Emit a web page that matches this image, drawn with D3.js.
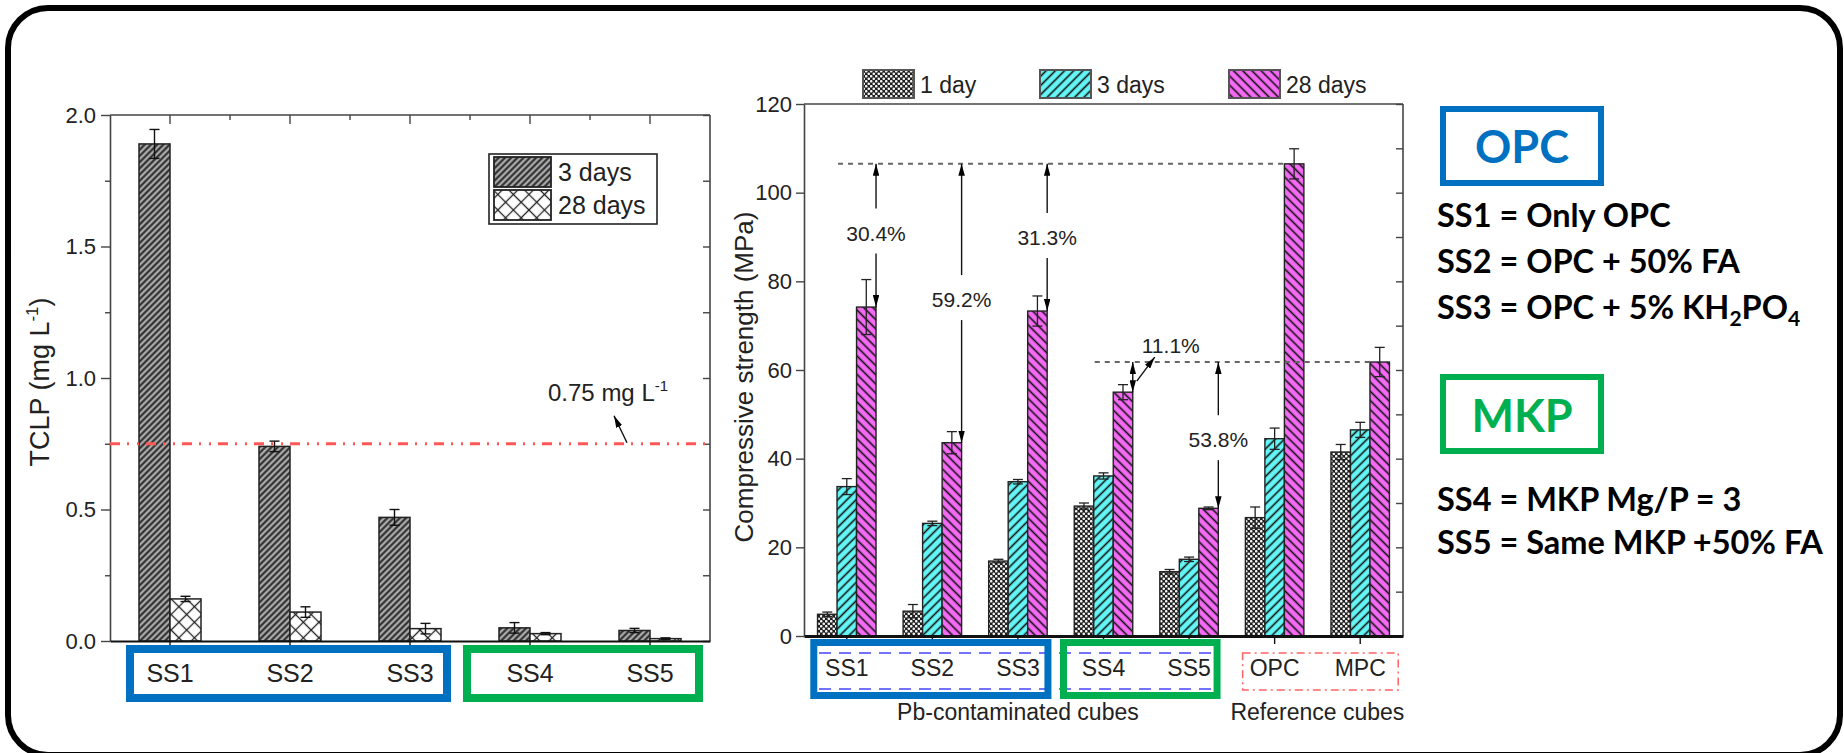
<!DOCTYPE html>
<html><head><meta charset="utf-8">
<script src="https://cdnjs.cloudflare.com/ajax/libs/d3/7.8.5/d3.min.js"></script>
<style>
html,body{margin:0;padding:0;background:#fff;}
svg{display:block;}
text{font-family:"Liberation Sans",Arial,sans-serif;fill:#222;}
.panel text{font-family:Lato,"Open Sans",sans-serif;font-weight:700;fill:#000;}
</style></head><body>
<svg id="c" width="1844" height="753"></svg>
<script>
// ---------- DATA ----------
const tclpCats = ["SS1","SS2","SS3","SS4","SS5"];
const tclp3d = [1.89, 0.74, 0.47, 0.05, 0.04];
const tclp3dErr = [0.055, 0.02, 0.03, 0.02, 0.008];
const tclp28d = [0.16, 0.11, 0.047, 0.028, 0.009];
const tclp28dErr = [0.01, 0.02, 0.02, 0.004, 0.003];
const tclpLimit = 0.75;
const tclpTicks = [0, 0.5, 1.0, 1.5, 2.0];
const tclpMinor = [0.25, 0.75, 1.25, 1.75];
const tclpSeries = ["3 days","28 days"];

const csCats = ["SS1","SS2","SS3","SS4","SS5","OPC","MPC"];
const cs1d = [4.9, 5.6, 16.9, 29.3, 14.5, 26.7, 41.5];
const cs1dErr = [0.5, 1.5, 0.4, 0.7, 0.5, 2.4, 1.7];
const cs3d = [33.7, 25.4, 34.8, 36.1, 17.3, 44.5, 46.5];
const cs3dErr = [1.8, 0.5, 0.5, 0.7, 0.5, 2.4, 1.7];
const cs28d = [74.2, 43.6, 73.3, 55.0, 28.8, 106.5, 61.8];
const cs28dErr = [6.2, 2.5, 3.4, 1.7, 0.3, 3.4, 3.3];
const csTicks = [0, 20, 40, 60, 80, 100, 120];
const csMinor = [10, 30, 50, 70, 90, 110];
const csSeries = ["1 day","3 days","28 days"];
// strength reduction annotations: category, reference, label, label position (MPa)
const redCats = ["SS1","SS2","SS3","SS5"];
const redRefs = ["OPC","OPC","OPC","MPC"];
const redLabels = ["30.4%","59.2%","31.3%","53.8%"];
const redLabelAt = [91, 76, 90, 44.4];
const smallRed = {cat:"SS4", ref:"MPC", label:"11.1%"};

const panelOPC = ["SS1 = Only OPC","SS2 = OPC + 50% FA"];
const panelMKP = ["SS4 = MKP Mg/P = 3","SS5 = Same MKP +50% FA"];

// ---------- SETUP ----------
const svg = d3.select("#c");
const defs = svg.append("defs");
function hatch(id, bg, angle, gap, sw, color){
  const p = defs.append("pattern").attr("id",id).attr("patternUnits","userSpaceOnUse")
    .attr("width",gap).attr("height",gap).attr("patternTransform",`rotate(${angle})`);
  p.append("rect").attr("width",gap).attr("height",gap).attr("fill",bg);
  p.append("line").attr("x1",gap/2).attr("x2",gap/2).attr("y1",0).attr("y2",gap)
    .attr("stroke",color).attr("stroke-width",sw);
}
hatch("grayH","#ababab",45,4.4,2,"#262626");
hatch("cyanH","#64f6f6",45,6.5,1.6,"#111");
hatch("magH","#f46af4",-45,6.5,1.6,"#111");
{
  const p = defs.append("pattern").attr("id","cross").attr("patternUnits","userSpaceOnUse")
    .attr("width",11).attr("height",11).attr("patternTransform","rotate(45)");
  p.append("rect").attr("width",11).attr("height",11).attr("fill","#fff");
  p.append("line").attr("x1",5.5).attr("x2",5.5).attr("y1",0).attr("y2",11).attr("stroke","#222").attr("stroke-width",1.3);
  p.append("line").attr("y1",5.5).attr("y2",5.5).attr("x1",0).attr("x2",11).attr("stroke","#222").attr("stroke-width",1.3);
  const d = defs.append("pattern").attr("id","dots").attr("patternUnits","userSpaceOnUse")
    .attr("width",5).attr("height",5);
  d.append("rect").attr("width",5).attr("height",5).attr("fill","#1e1e1e");
  d.append("circle").attr("cx",1.25).attr("cy",1.25).attr("r",1.3).attr("fill","#f4f4f4");
  d.append("circle").attr("cx",3.75).attr("cy",3.75).attr("r",1.3).attr("fill","#f4f4f4");
}
defs.append("marker").attr("id","ah").attr("viewBox","0 0 10 10").attr("refX",10).attr("refY",5)
  .attr("markerWidth",12).attr("markerHeight",6.5).attr("markerUnits","userSpaceOnUse")
  .attr("preserveAspectRatio","none").attr("orient","auto-start-reverse")
  .append("path").attr("d","M0,0 L10,5 L0,10 z").attr("fill","#000");

// outer frame
svg.append("rect").attr("x",8).attr("y",8).attr("width",1832).attr("height",747).attr("rx",40)
  .attr("fill","none").attr("stroke","#000").attr("stroke-width",6);

function styleAxis(g, color, w){
  g.select(".domain").attr("stroke",color).attr("stroke-width",w);
  g.selectAll(".tick line").attr("stroke",color).attr("stroke-width",1.4);
}

// ---------- LEFT CHART (TCLP) ----------
const L = {x0:110, x1:710, y0:641, y1:115};
const xL = d3.scaleBand().domain(tclpCats).range([L.x0, L.x1]);
const yL = d3.scaleLinear().domain([0,2]).range([L.y0, L.y1]);
const bwL = 31;
const gL = svg.append("g");

gL.append("line").attr("x1",L.x0).attr("x2",L.x1).attr("y1",L.y1).attr("y2",L.y1).attr("stroke","#444").attr("stroke-width",1.6);
gL.append("line").attr("x1",L.x1).attr("x2",L.x1).attr("y1",L.y1).attr("y2",L.y0).attr("stroke","#444").attr("stroke-width",1.6);

const axL = gL.append("g").attr("transform",`translate(${L.x0},0)`)
  .call(d3.axisLeft(yL).tickValues(tclpTicks).tickFormat(d3.format(".1f")).tickSize(9).tickSizeOuter(0).tickPadding(5));
axL.selectAll("text").attr("font-size",22).attr("fill","#333");
styleAxis(axL,"#444",1.6);
const axLm = gL.append("g").attr("transform",`translate(${L.x0},0)`)
  .call(d3.axisLeft(yL).tickValues(tclpMinor).tickFormat("").tickSize(5).tickSizeOuter(0));
axLm.select(".domain").remove(); styleAxis(axLm,"#444",1.4);
const axR = gL.append("g").attr("transform",`translate(${L.x1},0)`)
  .call(d3.axisLeft(yL).tickValues(tclpTicks.concat(tclpMinor)).tickFormat("").tickSize(7).tickSizeOuter(0));
axR.select(".domain").remove(); styleAxis(axR,"#444",1.4);
const axT = gL.append("g").attr("transform",`translate(0,${L.y1})`)
  .call(d3.axisTop(xL).tickFormat("").tickSize(-9).tickSizeOuter(0));
axT.select(".domain").remove(); styleAxis(axT,"#444",1.4);
gL.append("g").selectAll("line").data(tclpCats.slice(1)).join("line")
  .attr("x1",d=>xL(d)).attr("x2",d=>xL(d)).attr("y1",L.y1).attr("y2",L.y1+5)
  .attr("stroke","#444").attr("stroke-width",1.4);

const barsL = [{vals:tclp3d, err:tclp3dErr, fill:"url(#grayH)", off:-bwL},{vals:tclp28d, err:tclp28dErr, fill:"url(#cross)", off:0}];
barsL.forEach(s=>{
  const c = xL.bandwidth()/2;
  gL.append("g").selectAll("rect").data(tclpCats).join("rect")
    .attr("x",d=>xL(d)+c+s.off).attr("width",bwL)
    .attr("y",(d,i)=>yL(s.vals[i])).attr("height",(d,i)=>yL(0)-yL(s.vals[i]))
    .attr("fill",s.fill).attr("stroke","#222").attr("stroke-width",1.5);
  const eg = gL.append("g").attr("stroke","#111").attr("stroke-width",1.4);
  tclpCats.forEach((d,i)=>{
    const cx = xL(d)+c+s.off+bwL/2;
    const yt = yL(s.vals[i]+s.err[i]), yb = yL(s.vals[i]-s.err[i]);
    eg.append("line").attr("x1",cx).attr("x2",cx).attr("y1",yt).attr("y2",yb);
    eg.append("line").attr("x1",cx-5).attr("x2",cx+5).attr("y1",yt).attr("y2",yt);
    eg.append("line").attr("x1",cx-5).attr("x2",cx+5).attr("y1",yb).attr("y2",yb);
  });
});

const axB = gL.append("g").attr("transform",`translate(0,${L.y0})`)
  .call(d3.axisBottom(xL).tickSize(7).tickSizeOuter(0).tickPadding(16));
axB.selectAll("text").attr("font-size",25).attr("fill","#222");
styleAxis(axB,"#111",2.2);

gL.append("line").attr("x1",L.x0).attr("x2",L.x1).attr("y1",yL(tclpLimit)).attr("y2",yL(tclpLimit))
  .attr("stroke","#ff5757").attr("stroke-width",3).attr("stroke-dasharray","10,7,2,8,2,7");
const lt = gL.append("text").attr("x",548).attr("y",yL(tclpLimit)-43).attr("font-size",24).attr("fill","#222");
lt.append("tspan").text(d3.format(".2f")(tclpLimit)+" mg L");
lt.append("tspan").attr("font-size",15).attr("dy",-10).text("-1");
gL.append("line").attr("x1",627).attr("y1",yL(tclpLimit)-1).attr("x2",614).attr("y2",yL(tclpLimit)-28)
  .attr("stroke","#111").attr("stroke-width",1.4).attr("marker-end","url(#ah)");

const yl = gL.append("text").attr("transform",`translate(49,382) rotate(-90)`).attr("text-anchor","middle")
  .attr("font-size",27).attr("fill","#222");
yl.append("tspan").text("TCLP (mg L");
yl.append("tspan").attr("font-size",17).attr("dy",-11).text("-1");
yl.append("tspan").attr("dy",11).text(")");

gL.append("rect").attr("x",489).attr("y",154).attr("width",168).attr("height",70).attr("fill","#fff").attr("stroke","#222").attr("stroke-width",1.6);
const legFillsL = ["url(#grayH)","url(#cross)"];
tclpSeries.forEach((s,i)=>{
  gL.append("rect").attr("x",494).attr("y",157+i*33).attr("width",57).attr("height",30)
    .attr("fill",legFillsL[i]).attr("stroke","#222").attr("stroke-width",1.8);
  gL.append("text").attr("x",558).attr("y",181+i*33).attr("font-size",25).attr("fill","#222").text(s);
});

// group boxes (left)
const bw = xL.bandwidth();
gL.append("rect").attr("x",xL("SS1")+20).attr("y",649).attr("width",xL("SS3")+bw-23-(xL("SS1")+20)).attr("height",49)
  .attr("fill","none").attr("stroke","#0070C0").attr("stroke-width",8);
gL.append("rect").attr("x",xL("SS4")-3).attr("y",649).attr("width",xL("SS5")+bw-11-(xL("SS4")-3)).attr("height",49)
  .attr("fill","none").attr("stroke","#00B050").attr("stroke-width",8);

// ---------- RIGHT CHART (compressive strength) ----------
const R = {x0:804, x1:1403, y0:636, y1:104};
const xR = d3.scaleBand().domain(csCats).range([R.x0, R.x1]);
const yR = d3.scaleLinear().domain([0,120]).range([R.y0, R.y1]);
const bwR = 19.5;
const gR = svg.append("g");
gR.append("line").attr("x1",R.x0).attr("x2",R.x1).attr("y1",R.y1).attr("y2",R.y1).attr("stroke","#444").attr("stroke-width",1.4);
gR.append("line").attr("x1",R.x1).attr("x2",R.x1).attr("y1",R.y1).attr("y2",R.y0).attr("stroke","#444").attr("stroke-width",1.6);
const raxL = gR.append("g").attr("transform",`translate(${R.x0},0)`)
  .call(d3.axisLeft(yR).tickValues(csTicks).tickSize(8).tickSizeOuter(0).tickPadding(4));
raxL.selectAll("text").attr("font-size",22).attr("fill","#222");
styleAxis(raxL,"#444",1.6);
const raxR = gR.append("g").attr("transform",`translate(${R.x1},0)`)
  .call(d3.axisLeft(yR).tickValues(csTicks.concat(csMinor)).tickFormat("").tickSize(7).tickSizeOuter(0));
raxR.select(".domain").remove(); styleAxis(raxR,"#444",1.4);

const seriesR = [
  {vals:cs1d, err:cs1dErr, fill:"url(#dots)", k:-1.5},
  {vals:cs3d, err:cs3dErr, fill:"url(#cyanH)", k:-0.5},
  {vals:cs28d, err:cs28dErr, fill:"url(#magH)", k:0.5}
];
seriesR.forEach(s=>{
  const c = xR.bandwidth()/2;
  gR.append("g").selectAll("rect").data(csCats).join("rect")
    .attr("x",d=>xR(d)+c+s.k*bwR).attr("width",bwR)
    .attr("y",(d,i)=>yR(s.vals[i])).attr("height",(d,i)=>yR(0)-yR(s.vals[i]))
    .attr("fill",s.fill).attr("stroke","#222").attr("stroke-width",1.4);
  const eg = gR.append("g").attr("stroke","#222").attr("stroke-width",1.3);
  csCats.forEach((d,i)=>{
    const cx = xR(d)+c+(s.k+0.5)*bwR;
    const yt = yR(s.vals[i]+s.err[i]), yb = yR(s.vals[i]-s.err[i]);
    eg.append("line").attr("x1",cx).attr("x2",cx).attr("y1",yt).attr("y2",yb);
    eg.append("line").attr("x1",cx-5).attr("x2",cx+5).attr("y1",yt).attr("y2",yt);
    eg.append("line").attr("x1",cx-5).attr("x2",cx+5).attr("y1",yb).attr("y2",yb);
  });
});

const raxB = gR.append("g").attr("transform",`translate(0,${R.y0})`)
  .call(d3.axisBottom(xR).tickSize(8).tickSizeOuter(0).tickPadding(16));
raxB.selectAll("text").attr("font-size",23).attr("fill","#222");
styleAxis(raxB,"#111",3);

gR.append("text").attr("transform",`translate(753,377) rotate(-90)`).attr("text-anchor","middle")
  .attr("font-size",26).attr("fill","#222").text("Compressive strength (MPa)");

const legFillsR = ["url(#dots)","url(#cyanH)","url(#magH)"];
const legXR = [863, 1040, 1229];
csSeries.forEach((s,i)=>{
  gR.append("rect").attr("x",legXR[i]).attr("y",70).attr("width",51).attr("height",28)
    .attr("fill",legFillsR[i]).attr("stroke","#555").attr("stroke-width",2);
  gR.append("text").attr("x",legXR[i]+57).attr("y",93).attr("font-size",23).attr("fill","#222").text(s);
});

const c2 = xR.bandwidth()/2;
const idx = c=>csCats.indexOf(c);
const refLine = (fromCat, refCat)=>{
  const yv = yR(cs28d[idx(refCat)]);
  gR.append("line").attr("x1",xR(fromCat)+c2-0.5*bwR+1).attr("x2",xR(refCat)+c2+0.5*bwR)
    .attr("y1",yv).attr("y2",yv).attr("stroke","#666").attr("stroke-width",2).attr("stroke-dasharray","5,5");
};
refLine("SS1","OPC");
refLine("SS4","MPC");

const ag = gR.append("g");
redCats.forEach((c,i)=>{
  const x = xR(c)+c2+1.5*bwR;
  const yTop = yR(cs28d[idx(redRefs[i])]);
  const yBot = yR(cs28d[idx(c)]);
  const yl = yR(redLabelAt[i]);
  ag.append("line").attr("x1",x).attr("x2",x).attr("y1",yl-24).attr("y2",yTop)
    .attr("stroke","#111").attr("stroke-width",1.4).attr("marker-end","url(#ah)");
  ag.append("line").attr("x1",x).attr("x2",x).attr("y1",yl+21).attr("y2",yBot)
    .attr("stroke","#111").attr("stroke-width",1.4).attr("marker-end","url(#ah)");
  ag.append("text").attr("x",x).attr("y",yl+8).attr("text-anchor","middle").attr("font-size",21).text(redLabels[i]);
});
{
  const x = xR(smallRed.cat)+c2+1.5*bwR;
  const yTop = yR(cs28d[idx(smallRed.ref)]);
  const yBot = yR(cs28d[idx(smallRed.cat)]);
  ag.append("line").attr("x1",x).attr("x2",x).attr("y1",yBot).attr("y2",yTop)
    .attr("stroke","#111").attr("stroke-width",1.4)
    .attr("marker-start","url(#ah)").attr("marker-end","url(#ah)");
  const ym = (yTop+yBot)/2;
  ag.append("line").attr("x1",x+4).attr("y1",ym+4).attr("x2",x+22).attr("y2",ym-20)
    .attr("stroke","#111").attr("stroke-width",1.4).attr("marker-end","url(#ah)");
  ag.append("text").attr("x",x+9).attr("y",yTop-9).attr("font-size",21).text(smallRed.label);
}

const bx = c=>xR(c)+c2;
gR.append("line").attr("x1",819).attr("x2",1214).attr("y1",653).attr("y2",653).attr("stroke","#7272ff").attr("stroke-width",2).attr("stroke-dasharray","12,8");
gR.append("line").attr("x1",819).attr("x2",1214).attr("y1",689).attr("y2",689).attr("stroke","#7272ff").attr("stroke-width",2).attr("stroke-dasharray","12,8");
gR.append("rect").attr("x",bx("SS1")-33).attr("y",642.5).attr("width",bx("SS3")+30-(bx("SS1")-33)).attr("height",53)
  .attr("fill","none").attr("stroke","#0070C0").attr("stroke-width",7);
gR.append("rect").attr("x",bx("SS4")-40).attr("y",642.5).attr("width",bx("SS5")+28-(bx("SS4")-40)).attr("height",53)
  .attr("fill","none").attr("stroke","#00B050").attr("stroke-width",7);
gR.append("rect").attr("x",bx("OPC")-32).attr("y",653).attr("width",bx("MPC")+38-(bx("OPC")-32)).attr("height",37)
  .attr("fill","none").attr("stroke","#ff6464").attr("stroke-width",1.5).attr("stroke-dasharray","8,4,2,4");
gR.append("text").attr("x",bx("SS3")).attr("y",720).attr("text-anchor","middle").attr("font-size",23).text("Pb-contaminated cubes");
gR.append("text").attr("x",(bx("OPC")+bx("MPC"))/2).attr("y",720).attr("text-anchor","middle").attr("font-size",23).text("Reference cubes");

// ---------- RIGHT TEXT PANEL ----------
const P = svg.append("g").attr("class","panel");
P.append("rect").attr("x",1443).attr("y",109).attr("width",158).attr("height",74).attr("fill","none").attr("stroke","#0070C0").attr("stroke-width",6);
P.append("text").attr("x",1522).attr("y",163).attr("text-anchor","middle").attr("font-size",45).style("fill","#0070C0").text("OPC");
panelOPC.forEach((t,i)=>P.append("text").attr("x",1437).attr("y",227+i*46).attr("font-size",32.5).text(t));
const t3 = P.append("text").attr("x",1437).attr("y",319).attr("font-size",32.5);
t3.append("tspan").text("SS3 = OPC + 5% KH");
t3.append("tspan").attr("font-size",21).attr("dy",7).text("2");
t3.append("tspan").attr("dy",-7).text("PO");
t3.append("tspan").attr("font-size",21).attr("dy",7).text("4");
P.append("rect").attr("x",1443).attr("y",377).attr("width",158).attr("height",74).attr("fill","none").attr("stroke","#00B050").attr("stroke-width",6);
P.append("text").attr("x",1522).attr("y",432).attr("text-anchor","middle").attr("font-size",45).style("fill","#00B050").text("MKP");
panelMKP.forEach((t,i)=>P.append("text").attr("x",1437).attr("y",511+i*43).attr("font-size",32.5).text(t));
</script>
</body></html>
